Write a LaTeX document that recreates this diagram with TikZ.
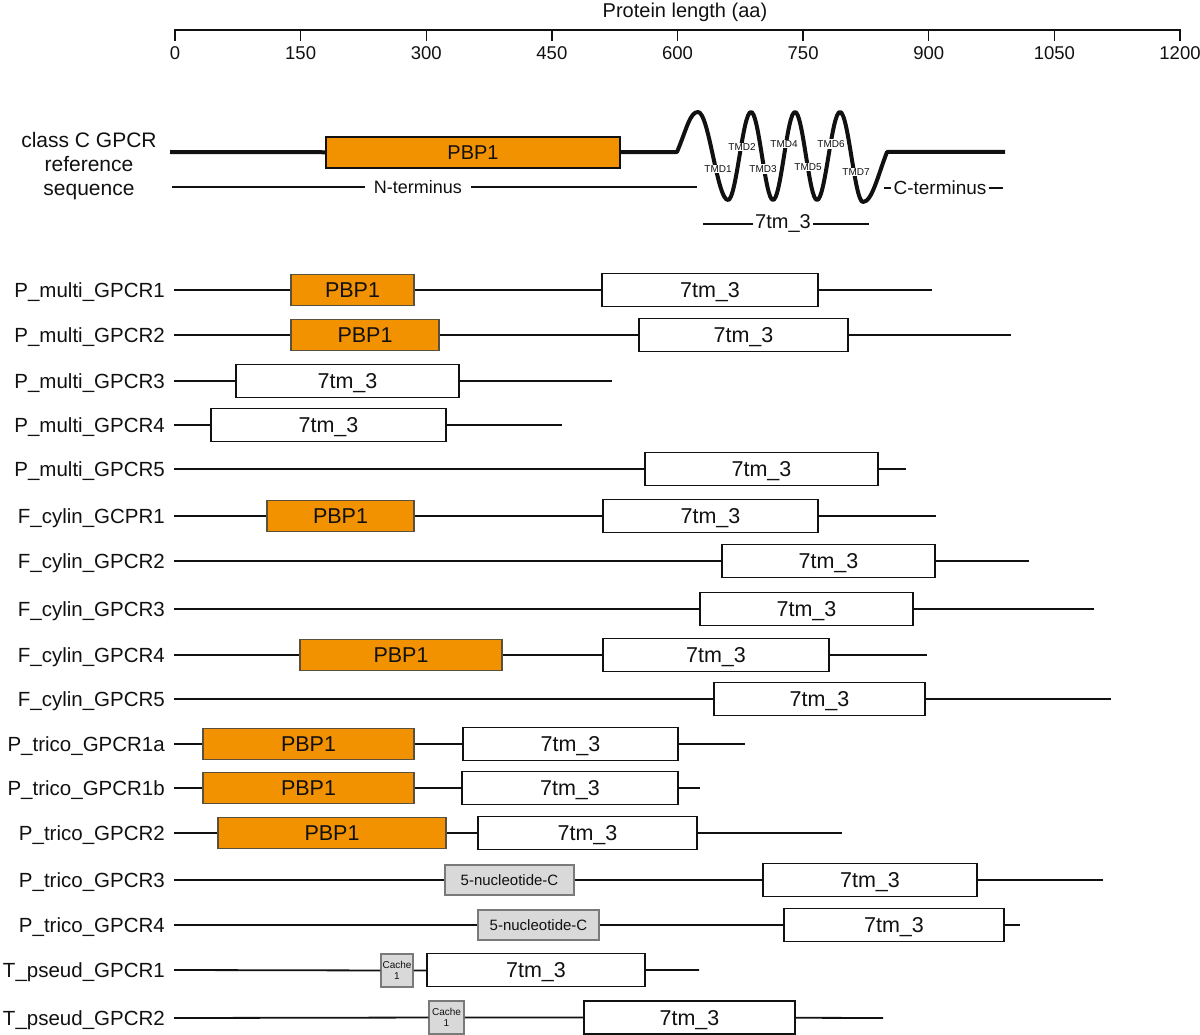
\documentclass[tikz,border=0pt]{standalone}
\usepackage{fontspec}
\setmainfont{Liberation Sans}
\usetikzlibrary{calc}
\definecolor{gpInk}{HTML}{111111}
\definecolor{gpOrange}{HTML}{F39200}
\definecolor{gpEdge}{HTML}{5A5040}
\definecolor{gpPale}{HTML}{D9D9D9}
\definecolor{gpGrey}{HTML}{7A7A7A}
\newcommand{\GPType}{\fontsize{21.5}{25}\selectfont}
\newcommand{\GPLabel}{\fontsize{20.5}{24}\selectfont}
\newcommand{\GPMid}{\fontsize{20}{24}\selectfont}
\newcommand{\GPTick}{\fontsize{18.5}{21}\selectfont}
\newcommand{\GPSmall}{\fontsize{15}{18}\selectfont}
\newcommand{\GPTiny}{\fontsize{10}{11.5}\selectfont}
\tikzset{gp/base/.style={x=1pt,y=-1pt,line cap=butt,line join=miter,
  every node/.style={font=\GPType,inner sep=0pt,text=gpInk}},
  gp/chain/.style={draw=gpInk,line width=1.8pt},
  gp/ref/.style={draw=gpInk,line width=4pt,line join=round},
  gp/pbp/.style={draw=gpEdge,fill=gpOrange,line width=1.5pt,minimum height=31pt},
  gp/tm/.style={draw=gpInk,fill=white,line width=1.6pt,minimum height=33pt,text depth=0pt},
  gp/nuc/.style={draw=gpGrey,fill=gpPale,line width=1.5pt,minimum height=30pt,font=\GPSmall},
  gp/cache/.style={draw=gpGrey,fill=gpPale,line width=1.5pt,minimum height=33pt,
    align=center,font=\GPTiny},
  gp/tmd/.style={font=\GPTiny,fill=white,inner sep=1pt}}

\begin{document}
\begin{tikzpicture}[gp/base]
  \useasboundingbox (0,0) rectangle (1200,1035);
  % Length axis, 150 aa per tick.
  \node[font=\GPMid] (title) at (685,12) {Protein length (aa)};
  \draw[gpInk,line width=1.4pt] (175,41)--(175,30)--(1180,30)--(1180,41);
  \foreach \i/\lab in {0/0,1/150,2/300,3/450,4/600,5/750,6/900,7/1050,8/1200}{%
    \draw[gpInk,line width=1.4pt] ({175+125.625*\i},30)--({175+125.625*\i},41);
    \node[font=\GPTick] (t\i) at ({175+125.625*\i},53) {\lab};}
  % Reference sequence with the seven transmembrane helices.
  \node[align=center,font=\fontsize{21}{24}\selectfont] (refl) at (89,166) {class C GPCR\\reference\\sequence};
  \node[gp/pbp,draw=gpInk,line width=2pt,minimum width=294pt,font=\GPMid] (refp) at (473,152.5) {PBP1};
  \coordinate (ref0) at (170,152);
  \coordinate (ref1) at (677,152);
  \coordinate (ref2) at (1005,152);
  \draw[gp/ref] (ref0) -- (refp);
  \draw[gp/ref] (refp) -- (ref1) .. controls (687,128) and (690,112) .. (698,112)
    cos (713,156) sin (728,200) cos (739.5,156) sin (751,112)
    cos (762,156) sin (773,200) cos (784,156) sin (795,112)
    cos (806,156) sin (817,200) cos (828.5,156) sin (840,112)
    cos (851.5,157) sin (863,202) .. controls (872,202) and (878,175) .. (887,152)
    -- (ref2);
  \foreach \k/\x/\y in {1/718/169,2/742/147,3/763/169,4/784/144,5/808/167,6/831/144,7/856/172}{%
    \node[gp/tmd] (tmd\k) at (\x,\y) {TMD\k};}
  \coordinate (nt0) at (172,187);
  \coordinate (nt1) at (697,187);
  \node[font=\fontsize{18}{21}\selectfont,inner xsep=9pt] (nterm) at (418,187) {N-terminus};
  \draw[gp/chain,line width=1.5pt] (nt0) -- (nterm) (nterm) -- (nt1);
  \coordinate (ct0) at (884,188);
  \coordinate (ct1) at (1003,188);
  \node[font=\fontsize{19}{22}\selectfont,inner xsep=2pt] (cterm) at (940,188) {C-terminus};
  \draw[gp/chain,line width=1.5pt] (ct0) -- (cterm) (cterm) -- (ct1);
  \coordinate (tm0) at (703,224);
  \coordinate (tm1) at (869,224);
  \node[font=\GPMid,inner xsep=2pt] (tmref) at (783,224) {7tm\_3};
  \draw[gp/chain,line width=1.5pt] (tm0) -- (tmref) (tmref) -- (tm1);
  % Row labels and chain starts.
  \foreach \n/\y/\lab in {1/290/P\_multi\_GPCR1,2/335/P\_multi\_GPCR2,3/381/P\_multi\_GPCR3,
    4/425/P\_multi\_GPCR4,5/469/P\_multi\_GPCR5,6/516/F\_cylin\_GCPR1,7/561/F\_cylin\_GPCR2,
    8/609/F\_cylin\_GPCR3,9/655/F\_cylin\_GPCR4,10/699/F\_cylin\_GPCR5,11/744/P\_trico\_GPCR1a,
    12/788/P\_trico\_GPCR1b,13/833/P\_trico\_GPCR2,14/880/P\_trico\_GPCR3,15/925/P\_trico\_GPCR4,
    16/970/T\_pseud\_GPCR1,17/1018/T\_pseud\_GPCR2}{%
    \node[anchor=east,font=\GPLabel,text depth=0pt] (lab\n) at (165,\y) {\lab};
    \coordinate (s\n) at (174,\y);}
  % P_multi
  \node[gp/pbp,minimum width=123pt] (r1a) at (352.5,290) {PBP1};
  \node[gp/tm,minimum width=216pt] (r1b) at (710,290) {7tm\_3};
  \coordinate (r1e) at (932,290);
  \draw[gp/chain] (s1) -- (r1a) (r1a) -- (r1b) (r1b) -- (r1e);
  \node[gp/pbp,minimum width=148pt] (r2a) at (365,335) {PBP1};
  \node[gp/tm,minimum width=209pt] (r2b) at (743.5,335) {7tm\_3};
  \coordinate (r2e) at (1011,335);
  \draw[gp/chain] (s2) -- (r2a) (r2a) -- (r2b) (r2b) -- (r2e);
  \node[gp/tm,minimum width=223pt] (r3b) at (347.5,381) {7tm\_3};
  \coordinate (r3e) at (612,381);
  \draw[gp/chain] (s3) -- (r3b) (r3b) -- (r3e);
  \node[gp/tm,minimum width=235pt] (r4b) at (328.5,425) {7tm\_3};
  \coordinate (r4e) at (562,425);
  \draw[gp/chain] (s4) -- (r4b) (r4b) -- (r4e);
  \node[gp/tm,minimum width=233pt] (r5b) at (761.5,469) {7tm\_3};
  \coordinate (r5e) at (906,469);
  \draw[gp/chain] (s5) -- (r5b) (r5b) -- (r5e);
  % F_cylin
  \node[gp/pbp,minimum width=147pt] (r6a) at (340.5,516) {PBP1};
  \node[gp/tm,minimum width=215pt] (r6b) at (710.5,516) {7tm\_3};
  \coordinate (r6e) at (936,516);
  \draw[gp/chain] (s6) -- (r6a) (r6a) -- (r6b) (r6b) -- (r6e);
  \node[gp/tm,minimum width=213pt] (r7b) at (828.5,561) {7tm\_3};
  \coordinate (r7e) at (1029,561);
  \draw[gp/chain] (s7) -- (r7b) (r7b) -- (r7e);
  \node[gp/tm,minimum width=213pt] (r8b) at (806.5,609) {7tm\_3};
  \coordinate (r8e) at (1094,609);
  \draw[gp/chain] (s8) -- (r8b) (r8b) -- (r8e);
  \node[gp/pbp,minimum width=202pt] (r9a) at (401,655) {PBP1};
  \node[gp/tm,minimum width=226pt] (r9b) at (716,655) {7tm\_3};
  \coordinate (r9e) at (927,655);
  \draw[gp/chain] (s9) -- (r9a) (r9a) -- (r9b) (r9b) -- (r9e);
  \node[gp/tm,minimum width=211pt] (r10b) at (819.5,699) {7tm\_3};
  \coordinate (r10e) at (1111,699);
  \draw[gp/chain] (s10) -- (r10b) (r10b) -- (r10e);
  % P_trico
  \node[gp/pbp,minimum width=211pt] (r11a) at (308.5,744) {PBP1};
  \node[gp/tm,minimum width=215pt] (r11b) at (570.5,744) {7tm\_3};
  \coordinate (r11e) at (745,744);
  \draw[gp/chain] (s11) -- (r11a) (r11a) -- (r11b) (r11b) -- (r11e);
  \node[gp/pbp,minimum width=211pt] (r12a) at (308.5,788) {PBP1};
  \node[gp/tm,minimum width=216pt] (r12b) at (570,788) {7tm\_3};
  \coordinate (r12e) at (700,788);
  \draw[gp/chain] (s12) -- (r12a) (r12a) -- (r12b) (r12b) -- (r12e);
  \node[gp/pbp,minimum width=228pt] (r13a) at (332,833) {PBP1};
  \node[gp/tm,minimum width=219pt] (r13b) at (587.5,833) {7tm\_3};
  \coordinate (r13e) at (842,833);
  \draw[gp/chain] (s13) -- (r13a) (r13a) -- (r13b) (r13b) -- (r13e);
  \node[gp/nuc,minimum width=129pt] (r14a) at (509.5,880) {5-nucleotide-C};
  \node[gp/tm,minimum width=214pt] (r14b) at (870,880) {7tm\_3};
  \coordinate (r14e) at (1103,880);
  \draw[gp/chain] (s14) -- (r14a) (r14a) -- (r14b) (r14b) -- (r14e);
  \node[gp/nuc,minimum width=121pt] (r15a) at (538.5,925) {5-nucleotide-C};
  \node[gp/tm,minimum width=220pt] (r15b) at (894,925) {7tm\_3};
  \coordinate (r15e) at (1020,925);
  \draw[gp/chain] (s15) -- (r15a) (r15a) -- (r15b) (r15b) -- (r15e);
  % T_pseud
  \node[gp/cache,minimum width=32pt] (r16a) at (397,970.5) {Cache\\1};
  \node[gp/tm,minimum width=218pt] (r16b) at (536,970) {7tm\_3};
  \coordinate (r16e) at (699,970);
  \draw[gp/chain] (s16) -- (r16a) (r16a) -- (r16b) (r16b) -- (r16e);
  \node[gp/cache,minimum width=35pt] (r17a) at (446.5,1017.5) {Cache\\1};
  \node[gp/tm,minimum width=211pt] (r17b) at (689.5,1017.5) {7tm\_3};
  \coordinate (r17e) at (883,1018);
  \draw[gp/chain] (s17) -- (r17a) (r17a) -- (r17b) (r17b) -- (r17e);
\end{tikzpicture}
\end{document}
